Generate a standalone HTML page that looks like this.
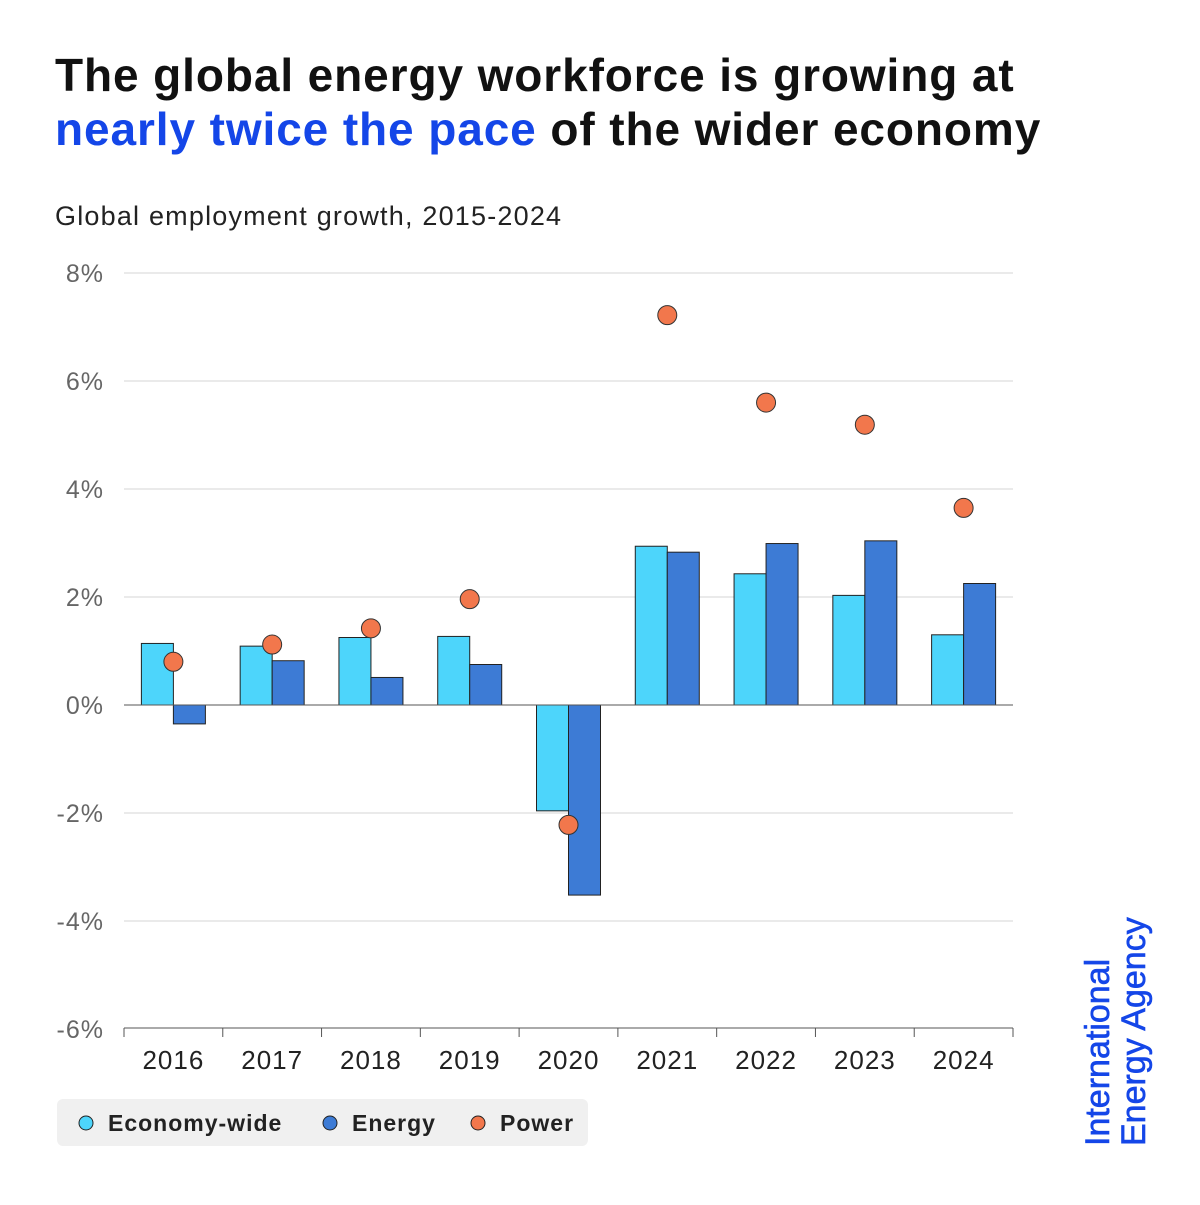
<!DOCTYPE html>
<html><head><meta charset="utf-8"><style>
body{margin:0;background:#fff;width:1200px;height:1200px;overflow:hidden;font-family:"Liberation Sans",sans-serif}
</style></head><body>
<svg width="1200" height="1200" xmlns="http://www.w3.org/2000/svg">
<g font-weight="bold" font-size="46" letter-spacing="0.9" fill="#111">
<text x="55" y="91">The global energy workforce is growing at</text>
<text x="55" y="145"><tspan fill="#1446e8">nearly twice the pace</tspan> of the wider economy</text>
</g>
<text x="55" y="225" font-size="27" letter-spacing="1.2" fill="#222">Global employment growth, 2015-2024</text>
<g id="grid"></g><g id="bars"></g><g id="xaxis"></g><g id="pts"></g>
<g>
<rect x="57" y="1099" width="531" height="47" rx="6" fill="#f0f0f0"/>
<circle cx="86" cy="1123" r="7" fill="#4dd5fb" stroke="#222" stroke-width="1"/>
<text x="108" y="1131" font-size="23" letter-spacing="1" font-weight="bold" fill="#222">Economy-wide</text>
<circle cx="330" cy="1123" r="7" fill="#3d7bd5" stroke="#222" stroke-width="1"/>
<text x="352" y="1131" font-size="23" letter-spacing="1" font-weight="bold" fill="#222">Energy</text>
<circle cx="478" cy="1123" r="7" fill="#f2774c" stroke="#222" stroke-width="1"/>
<text x="500" y="1131" font-size="23" letter-spacing="1" font-weight="bold" fill="#222">Power</text>
</g>
<g transform="translate(1109,1146) rotate(-90)" font-size="34" fill="#1446e8" stroke="#1446e8" stroke-width="0.6">
<text x="0" y="0">International</text><text x="0" y="36">Energy Agency</text>
</g>
</svg>
<script>
const years=["2016","2017","2018","2019","2020","2021","2022","2023","2024"];
const economy=[1.14,1.09,1.25,1.27,-1.96,2.94,2.43,2.03,1.3];
const energy=[-0.35,0.82,0.51,0.75,-3.52,2.83,2.99,3.04,2.25];
const power=[0.8,1.12,1.42,1.96,-2.22,7.22,5.6,5.19,3.65];
const yTicks=[8,6,4,2,0,-2,-4,-6];
const NS="http://www.w3.org/2000/svg";
const x0=124,x1=1013,bw=(x1-x0)/years.length;
const y=v=>705-v*54;
function mk(t,a,p){const e=document.createElementNS(NS,t);for(const k in a)e.setAttribute(k,a[k]);p.appendChild(e);return e;}
const grid=document.getElementById('grid'),bars=document.getElementById('bars'),xa=document.getElementById('xaxis'),pts=document.getElementById('pts');
yTicks.forEach(t=>{
 if(t!==0&&t!==-6){const l=mk('line',{x1:x0,x2:x1,y1:y(t),y2:y(t),stroke:'#d4d4d4','stroke-width':1},grid);
 
 }
 const tx=mk('text',{x:104,y:y(t)+9,'text-anchor':'end','font-size':25,'letter-spacing':1,fill:'#666'},grid);tx.textContent=t+'%';
 
 
});
years.forEach((yr,i)=>{
 const c=x0+bw*(i+0.5);
 [[economy[i],'#4dd5fb',c-32,'bar-economy'],[energy[i],'#3d7bd5',c,'bar-energy']].forEach(([v,col,bx,nm])=>{
  const r=mk('rect',{x:bx,y:Math.min(y(v),y(0)),width:32,height:Math.abs(y(v)-y(0)),fill:col,stroke:'#222','stroke-width':1},bars);
  
  
 });
 const p=mk('circle',{cx:c,cy:y(power[i]),r:9.5,fill:'#f2774c',stroke:'#333','stroke-width':1},pts);
 
 
 const t=mk('text',{x:c,y:1069,'text-anchor':'middle','font-size':26,'letter-spacing':1,fill:'#222'},xa);t.textContent=yr;
 
 
});
for(let i=0;i<=years.length;i++){mk('line',{x1:x0+bw*i,x2:x0+bw*i,y1:1028,y2:1037,stroke:'#555','stroke-width':1},xa);}
const zl=mk('line',{x1:x0,x2:x1,y1:y(0),y2:y(0),stroke:'#555','stroke-width':1},bars);


const bl=mk('line',{x1:x0,x2:x1,y1:1028,y2:1028,stroke:'#555','stroke-width':1},xa);


</script>
</body></html>
